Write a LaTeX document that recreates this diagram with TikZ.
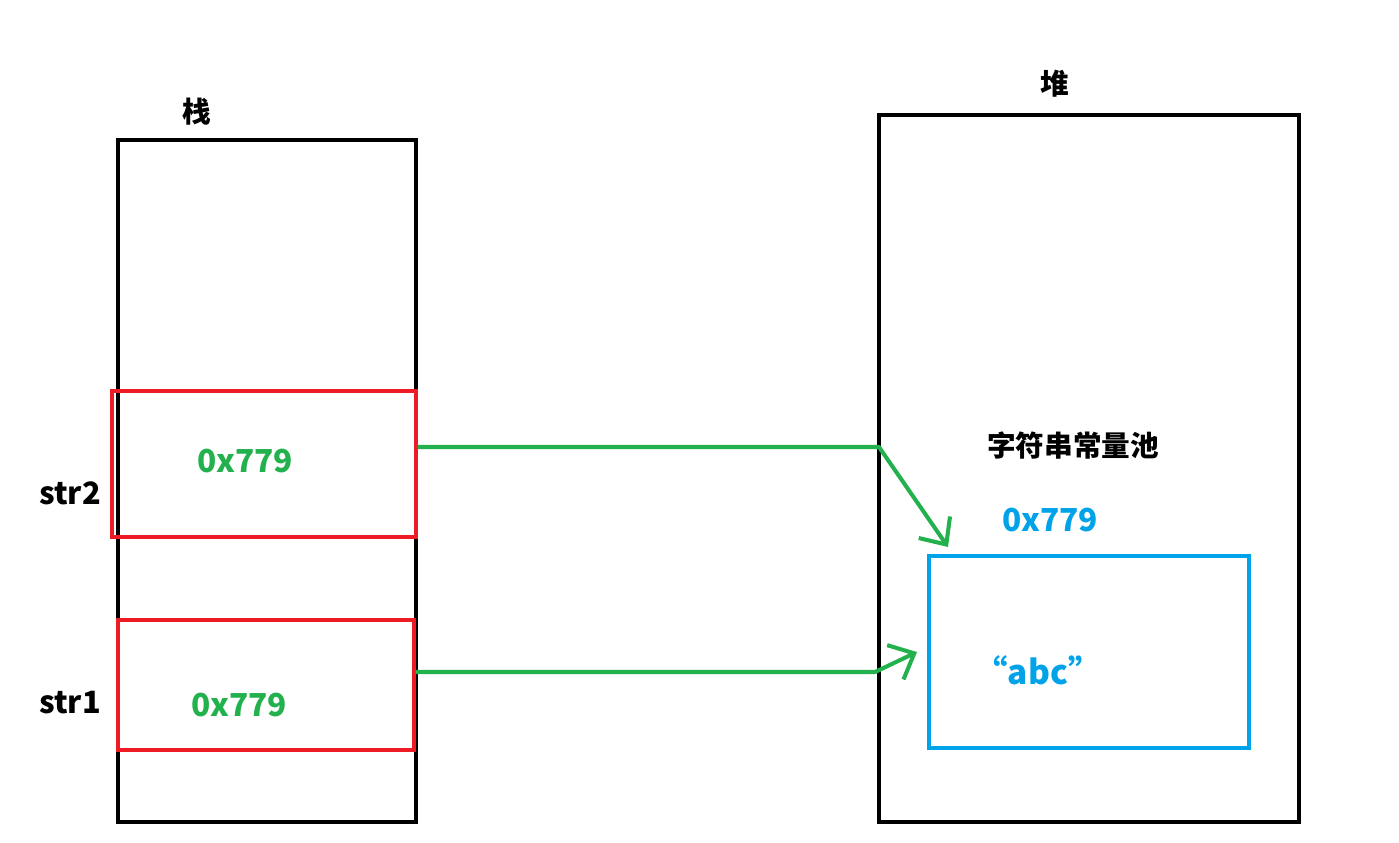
\documentclass[tikz,border=0pt]{standalone}
\usepackage{fontspec}
\setmainfont{Noto Sans CJK SC}
\usepackage{xcolor}
\usetikzlibrary{arrows.meta,positioning,calc}
\definecolor{paintgreen}{RGB}{34,177,76}
\definecolor{paintred}{RGB}{237,28,36}
\definecolor{paintblue}{RGB}{0,162,232}

\begin{document}
\begin{tikzpicture}[x=0.02cm, y=-0.02cm, font=\bfseries\fontsize{17.5}{20}\selectfont,
    membox/.style={rectangle, draw=black, line width=2.3pt, inner sep=0pt},
    slotbox/.style={rectangle, draw=paintred, line width=1.8pt, inner sep=0pt},
    poolbox/.style={rectangle, draw=paintblue, line width=2.3pt, inner sep=0pt},
    hanzi/.style={font=\bfseries\fontsize{16.3}{19}\selectfont},
    addr/.style={text=paintgreen, font=\bfseries\fontsize{18}{20}\selectfont},
    ref/.style={draw=paintgreen, line width=2.3pt, line join=round, -{Straight Barb[length=0.42cm, width=0.76cm]}}]
        \useasboundingbox (0,0) rectangle (1399,842);
        % stack and heap
        \node[membox, minimum width=5.96cm, minimum height=13.64cm] (stack) at (267,481) {};
        \node[membox, minimum width=8.4cm, minimum height=14.14cm] (heap) at (1089,468.5) {};
        \node[hanzi] (stacklbl) at (197,112) {栈};
        \node[hanzi] (heaplbl) at (1055,84) {堆};

        % references on the stack
        \node[slotbox, minimum width=6.08cm, minimum height=2.92cm] (str2box) at (264,464) {};
        \node[slotbox, minimum width=5.92cm, minimum height=2.6cm] (str1box) at (266,685) {};
        \node[addr] (str2addr) at (245,461) {0x779};
        \node[addr] (str1addr) at (239,705) {0x779};
        \node (str2lbl) at (70,493) {str2};
        \node (str1lbl) at (70,703) {str1};

        % string constant pool
        \node[hanzi] (poollbl) at (1073,446) {字符串常量池};
        \node[addr, text=paintblue] (pooladdr) at (1050,520) {0x779};
        \node[poolbox, minimum width=6.4cm, minimum height=3.84cm] (abcbox) at (1089,652) {};
        \node[text=paintblue, font=\bfseries\fontsize{19}{21}\selectfont] (abc) at (1038,670) {“abc”};

        \coordinate (bend2) at (879,447);
        \coordinate (tip2) at (948,547);
        \coordinate (bend1) at (875,672);
        \coordinate (tip1) at (917,652);
        \draw[ref] (str2box.east |- bend2) -- (bend2) -- (tip2);
        \draw[ref] (str1box.east |- bend1) -- (bend1) -- (tip1);
      \end{tikzpicture}
\end{document}
